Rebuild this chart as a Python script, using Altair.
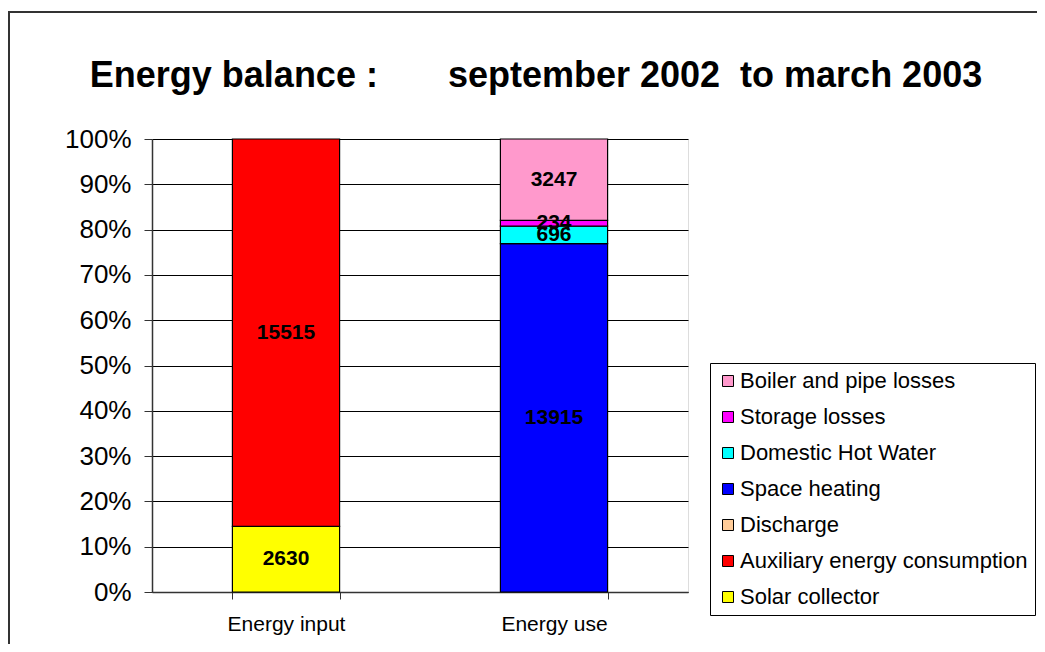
import altair as alt
import pandas as pd

categories = ["Energy input", "Energy input", "Energy use", "Energy use", "Energy use", "Energy use"]
series = ["Solar collector", "Auxiliary energy consumption", "Space heating",
          "Domestic Hot Water", "Storage losses", "Boiler and pipe losses"]
values = [2630, 15515, 13915, 696, 234, 3247]

legend_order = ["Solar collector", "Auxiliary energy consumption", "Discharge", "Space heating",
                "Domestic Hot Water", "Storage losses", "Boiler and pipe losses"]
colors = ["#FFFF00", "#FF0000", "#FFCC99", "#0000FF", "#00FFFF", "#FF00FF", "#FF99CC"]

df = pd.DataFrame({"cat": categories, "series": series, "value": values})
df["order"] = [legend_order.index(s) for s in df["series"]]

FONT = "Liberation Sans"

base = alt.Chart(df)

bars = base.mark_bar(stroke="black", strokeWidth=1.2).encode(
    x=alt.X("cat:N", title=None, sort=["Energy input", "Energy use"],
            scale=alt.Scale(paddingInner=0.6, paddingOuter=0.3),
            axis=alt.Axis(labelAngle=0, labelFontSize=21, labelFont=FONT, labelColor="black",
                          tickBand="extent", tickSize=7, tickColor="#333", domainColor="#333",
                          labelPadding=14, domainWidth=1.5)),
    y=alt.Y("value:Q", stack="normalize", title=None,
            scale=alt.Scale(domain=[0, 1]),
            axis=alt.Axis(format=".0%", values=[i / 10 for i in range(11)], labelFontSize=26,
                          labelFont=FONT, labelColor="black", tickSize=8, tickColor="#333",
                          domainColor="#333", labelPadding=13, gridColor="black", gridOpacity=1,
                          grid=True, domainWidth=1.5)),
    color=alt.Color("series:N", scale=alt.Scale(domain=legend_order, range=colors),
                    sort=legend_order,
                    legend=alt.Legend(title=None, orient="none", legendX=558, legendY=224,
                                      direction="vertical", labelFont=FONT, labelFontSize=22,
                                      labelColor="black", symbolType="square", symbolSize=121,
                                      symbolStrokeColor="black", symbolStrokeWidth=1,
                                      rowPadding=14, padding=7, strokeColor="black",
                                      fillColor="white", labelOffset=1, symbolOpacity=1,
                                      labelLimit=0, values=legend_order[::-1])),
    order=alt.Order("order:Q"),
)

labels = base.transform_stack(
    stack="value", groupby=["cat"], as_=["v0", "v1"], sort=[alt.SortField("order")],
    offset="normalize"
).transform_calculate(mid="(datum.v0 + datum.v1) / 2").mark_text(
    font=FONT, fontSize=21, fontWeight="bold", color="black", baseline="middle"
).encode(
    x=alt.X("cat:N", sort=["Energy input", "Energy use"]),
    y=alt.Y("mid:Q"),
    text=alt.Text("value:Q"),
)

frame = alt.Chart(pd.DataFrame({"a": [0]})).mark_rect(
    fill=None, stroke="#333", strokeWidth=2
).encode(x=alt.value(-143), x2=alt.value(920), y=alt.value(-127), y2=alt.value(540))

title = alt.Chart(pd.DataFrame({"t": ["Energy balance :\u00a0\u00a0\u00a0\u00a0\u00a0\u00a0 september 2002\u00a0 to march 2003"]})).mark_text(
    font=FONT, fontSize=36, fontWeight="bold", color="black", baseline="alphabetic", align="center"
).encode(x=alt.value(384), y=alt.value(-52), text="t:N")

chart = alt.layer(frame, bars, labels, title).properties(
    width=536, height=453,
    autosize=alt.AutoSizeParams(type="none"),
    padding={"left": 144, "top": 131, "right": 349, "bottom": 52},
).configure_view(stroke="#999", strokeWidth=1.5).configure(background="white")

chart.save("out.html", embed_options={"renderer": "svg", "actions": False})
